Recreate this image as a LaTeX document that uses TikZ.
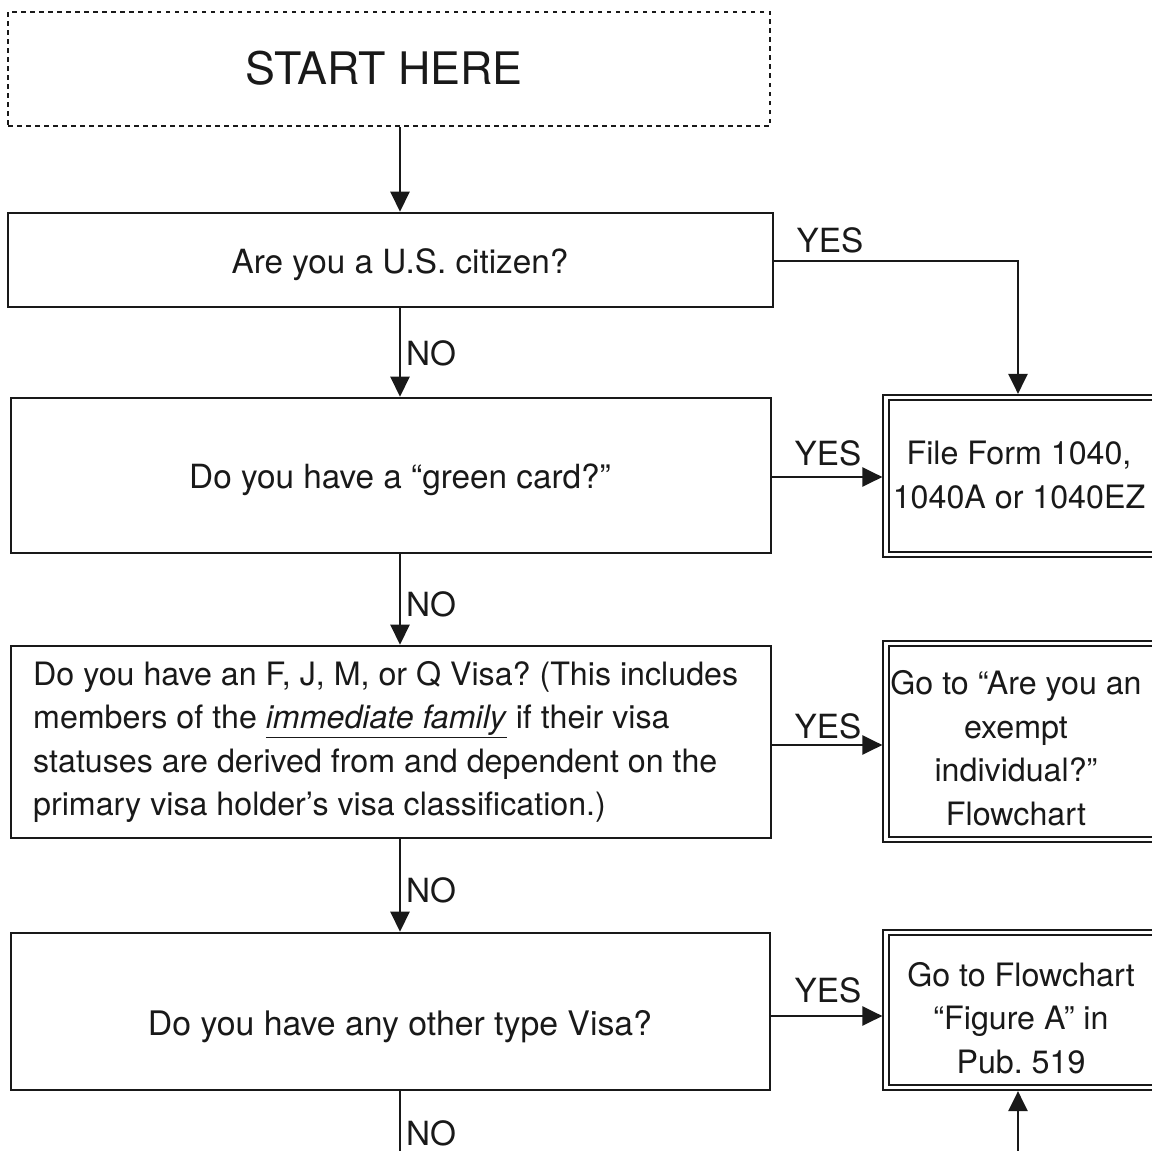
\documentclass[tikz,border=0pt]{standalone}
\usepackage{fontspec}
\setmainfont{TeX Gyre Heros}
\usetikzlibrary{arrows.meta}
\frenchspacing
\begin{document}
\begin{tikzpicture}[x=1pt,y=-1pt,
  qbox/.style={draw=black!90,line width=2.6pt,rectangle,inner sep=0pt},
  rbox/.style={draw=black!90,double=white,double distance=3.6pt,line width=1.8pt,rectangle,inner sep=0pt,outer sep=3.6pt},
  startbox/.style={draw=black!90,line width=2.4pt,dash pattern=on 4.5pt off 4.5pt,rectangle,inner sep=0pt},
  txt/.style={inner sep=0pt,font=\fontsize{33.3}{43.5}\selectfont,text=black!90},
  smtxt/.style={inner sep=0pt,font=\fontsize{32.2}{43.5}\selectfont,text=black!90},
  bigtxt/.style={inner sep=0pt,font=\fontsize{44.8}{50}\selectfont,text=black!90},
  conn/.style={draw=black!90,line width=2.5pt},
  arr/.style={conn,-{Triangle[length=20pt,width=19pt]}}]
\useasboundingbox (0,0) rectangle (1152,1151);
\clip (0,0) rectangle (1152,1151);
\coordinate (cx) at (400,0);
\coordinate (rx) at (1018,0);
% boxes
\node[startbox,minimum width=762pt,minimum height=114pt] (start) at (389,69) {};
\node[qbox,minimum width=765pt,minimum height=94pt] (b1) at (390.5,260) {};
\node[qbox,minimum width=760pt,minimum height=155pt] (b2) at (391,475.5) {};
\node[qbox,minimum width=760pt,minimum height=192pt] (b3) at (391,742) {};
\node[qbox,minimum width=759pt,minimum height=157pt] (b4) at (390.5,1011.5) {};
\node[rbox,minimum width=284pt,minimum height=157pt] (r1) at (1028,476) {};
\node[rbox,minimum width=284pt,minimum height=196pt] (r2) at (1028,741.5) {};
\node[rbox,minimum width=284pt,minimum height=155pt] (r3) at (1028,1010) {};
% texts
\node[bigtxt] (t0) at (384,68) {START HERE};
\node[txt] (t1) at (400,265) {Are you a U.S. citizen?};
\node[txt] (t2) at (400,480) {Do you have a “green card?”};
\node[smtxt,anchor=west,align=left] (t3) at (33,742) {Do you have an F, J, M, or Q Visa? (This includes\\members of the \underline{\textit{immediate family}} if their visa\\statuses are derived from and dependent on the\\primary visa holder’s visa classification.)};
\node[txt,font=\fontsize{33.8}{43.5}\selectfont] (t4) at (400,1027) {Do you have any other type Visa?};
\node[smtxt,align=center] (tr1) at (1019,475) {File Form 1040,\\1040A or 1040EZ};
\node[smtxt,align=center] (tr2) at (1016,748) {Go to “Are you an\\exempt\\individual?”\\Flowchart};
\node[smtxt,align=center] (tr3) at (1021,1018) {Go to Flowchart\\“Figure A” in\\Pub. 519};
% labels
\node[txt] (y1) at (830,240) {YES};
\node[txt] (y2) at (828,453) {YES};
\node[txt] (y3) at (828,726) {YES};
\node[txt] (y4) at (828,990) {YES};
\node[txt,anchor=west] (n1) at (406,353) {NO};
\node[txt,anchor=west] (n2) at (406,604) {NO};
\node[txt,anchor=west] (n3) at (406,890) {NO};
\node[txt,anchor=west] (n4) at (406,1133) {NO};
% connectors
\draw[arr] (start.south -| cx) -- (b1.north -| cx);
\draw[arr] (b1.south -| cx) -- (b2.north -| cx);
\draw[arr] (b2.south -| cx) -- (b3.north -| cx);
\draw[arr] (b3.south -| cx) -- (b4.north -| cx);
\coordinate (bend) at (1018,261);
\coordinate (bot1) at (400,1160);
\coordinate (bot2) at (1018,1160);
\draw[arr] (b1.east |- bend) -- (bend) -- (r1.north -| rx);
\draw[arr] (b2.east) ++(0,1.5) coordinate (e2) -- (r1.west |- e2);
\draw[arr] (b3.east) ++(0,3) coordinate (e3) -- (r2.west |- e3);
\draw[arr] (b4.east) ++(0,4.5) coordinate (e4) -- (r3.west |- e4);
\draw[conn] (b4.south -| cx) -- (bot1);
\draw[arr] (bot2) -- (r3.south -| rx);
\end{tikzpicture}
\end{document}
